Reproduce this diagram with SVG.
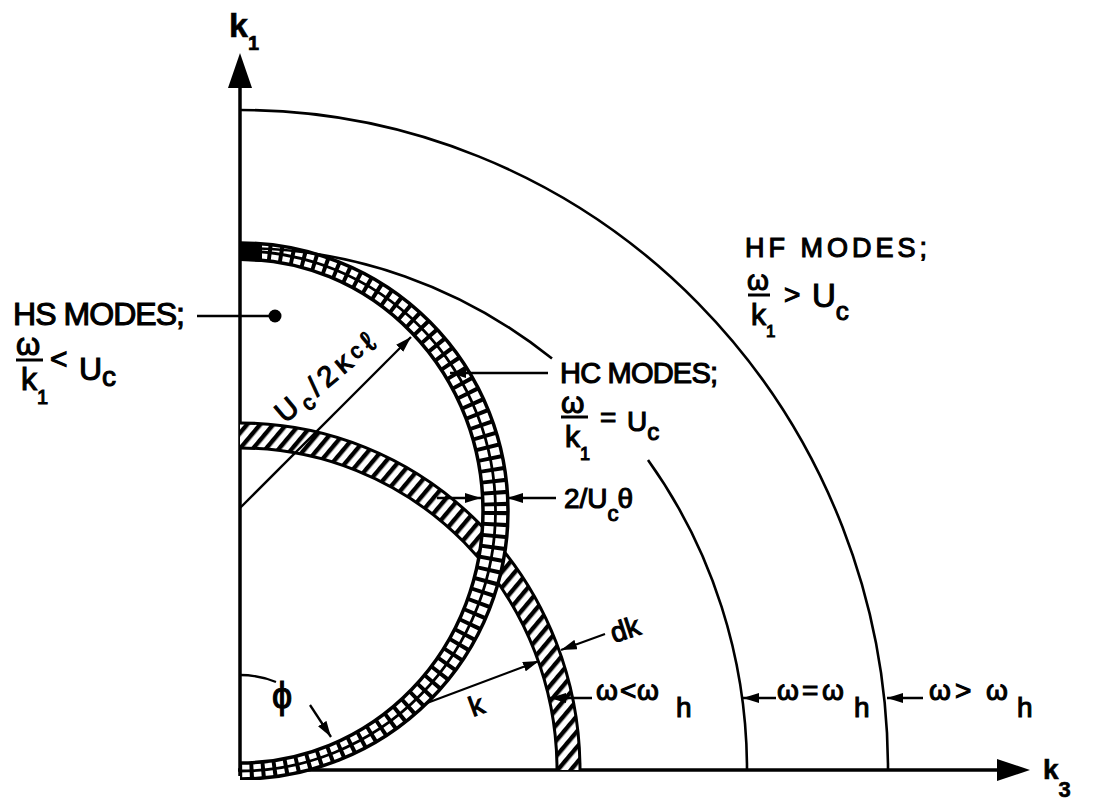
<svg xmlns="http://www.w3.org/2000/svg" width="1093" height="802" viewBox="0 0 1093 802">
<style>
text{font-family:"Liberation Sans",Arial,sans-serif;fill:#000;stroke:#000;stroke-width:1.1}
.b{font-weight:bold;stroke-width:0.6}
.ln{fill:none;stroke:#000;stroke-width:2.6}
.ax{fill:none;stroke:#000;stroke-width:3.5}
.edge{fill:none;stroke:#000;stroke-width:3.5}
.bar{stroke:#000;stroke-width:3}
.dim{fill:none;stroke:#000;stroke-width:2.3}
</style>
<defs>
<marker id="ah" viewBox="0 0 16 10" markerWidth="16" markerHeight="10" refX="16" refY="5" orient="auto" markerUnits="userSpaceOnUse">
<path d="M0,0 L16,5 L0,10 z" fill="#000"/>
</marker>
<pattern id="hatch" patternUnits="userSpaceOnUse" width="10" height="10" patternTransform="rotate(40)">
<rect x="0" y="0" width="4.4" height="10" fill="#000"/>
</pattern>
<clipPath id="quadK"><rect x="240" y="0" width="853" height="770"/></clipPath>
<clipPath id="quadC"><rect x="240" y="0" width="853" height="780"/></clipPath>
<clipPath id="kband">
<path clip-rule="evenodd" d="M-100,770 a340,347 0 1,0 680,0 a340,347 0 1,0 -680,0 Z M-77,770 a317,322 0 1,0 634,0 a317,322 0 1,0 -634,0 Z"/>
</clipPath>
<clipPath id="cband">
<path clip-rule="evenodd" d="M-28,511 a268,268 0 1,0 536,0 a268,268 0 1,0 -536,0 Z M-3,511 a243,252 0 1,0 486,0 a243,252 0 1,0 -486,0 Z"/>
</clipPath>
</defs>
<rect width="1093" height="802" fill="#fff"/>

<g id="axes">
<line class="ax" x1="240" y1="776" x2="240" y2="80"/>
<polygon points="240,53 228,88 252,88" fill="#000"/>
<line class="ax" x1="238" y1="770" x2="1000" y2="770"/>
<polygon points="1030,770 997,759 997,781" fill="#000"/>
<text class="b" x="229" y="37" font-size="34">k<tspan font-size="20" dy="13">1</tspan></text>
<text class="b" x="1043" y="779" font-size="28">k<tspan font-size="22" dy="18">3</tspan></text>
</g>

<g id="k-band" clip-path="url(#quadK)">
<g clip-path="url(#kband)">
<rect x="240" y="400" width="360" height="380" fill="#fff"/>
<rect x="240" y="400" width="360" height="380" fill="url(#hatch)"/>
</g>
<ellipse class="edge" cx="240" cy="770" rx="340" ry="347" style="stroke-width:3"/>
<ellipse class="edge" cx="240" cy="770" rx="317" ry="322" style="stroke-width:3"/>
</g>

<g id="hc-band" clip-path="url(#quadC)">
<g clip-path="url(#cband)">
<rect x="230" y="230" width="300" height="560" fill="#fff"/>
<ellipse cx="240" cy="511" rx="255.5" ry="260" fill="none" stroke="#000" stroke-width="40" stroke-dasharray="4 7.5"/>
<ellipse cx="240" cy="511" rx="255.5" ry="260" fill="none" stroke="#000" stroke-width="2.8"/>
</g>
<ellipse class="edge" cx="240" cy="511" rx="268" ry="268"/>
<ellipse class="edge" cx="240" cy="511" rx="243" ry="252"/>
<path d="M240,243 L262,245 L262,262 L240,261 Z" fill="#000"/>
</g>

<g id="arcs">
<path class="ln" d="M240,248 A507,522 0 0,1 552,358.6"/>
<path class="ln" d="M648,460 A507,522 0 0,1 747,770"/>
<path class="ln" d="M240,110 A648,660 0 0,1 888,770"/>
</g>

<g id="connectors">
<line class="dim" x1="197" y1="316" x2="272" y2="316"/>
<circle cx="275" cy="316" r="6.5" fill="#000"/>
<line class="dim" x1="548" y1="373" x2="450" y2="373" marker-end="url(#ah)"/>
<line class="dim" x1="240" y1="508" x2="411" y2="337" marker-end="url(#ah)"/>
<line class="dim" x1="437" y1="498" x2="481" y2="498" marker-end="url(#ah)"/>
<line class="dim" x1="556" y1="498" x2="507" y2="498" marker-end="url(#ah)"/>
<line class="dim" x1="427" y1="703" x2="539" y2="661" marker-end="url(#ah)"/>
<line class="dim" x1="605" y1="634" x2="561" y2="650" marker-end="url(#ah)"/>
<path class="dim" d="M240,675 A95,95 0 0,1 276,682"/>
<line class="dim" x1="310" y1="705" x2="331" y2="737" marker-end="url(#ah)"/>
<line class="dim" x1="592" y1="698" x2="550" y2="698" marker-end="url(#ah)"/>
<line class="dim" x1="776" y1="698" x2="743" y2="698" marker-end="url(#ah)"/>
<line class="dim" x1="923" y1="698" x2="887" y2="698" marker-end="url(#ah)"/>
</g>

<g id="hs-label">
<text x="13" y="325" font-size="32" textLength="172" lengthAdjust="spacing">HS MODES;</text>
<text x="16" y="355" font-size="31">ω</text>
<line class="bar" x1="16" y1="360" x2="43" y2="360"/>
<text x="21" y="390" font-size="32">k<tspan font-size="20" dy="14">1</tspan></text>
<text x="50" y="369" font-size="30">&lt;</text>
<text x="79" y="380" font-size="32">U<tspan font-size="28" dy="6">c</tspan></text>
</g>

<g id="hc-label">
<text x="560" y="383" font-size="29" textLength="158" lengthAdjust="spacing">HC MODES;</text>
<text x="561" y="413" font-size="30">ω</text>
<line class="bar" x1="561" y1="417" x2="588" y2="417"/>
<text x="565" y="447" font-size="30">k<tspan font-size="18" dy="13">1</tspan></text>
<text x="600" y="427" font-size="28">=</text>
<text x="627" y="431" font-size="28">U<tspan font-size="24" dy="9">c</tspan></text>
</g>

<g id="hf-label">
<text x="745" y="257" font-size="27" textLength="182" lengthAdjust="spacing">HF MODES;</text>
<text x="747" y="290" font-size="28">ω</text>
<line class="bar" x1="748" y1="295" x2="770" y2="295"/>
<text x="751" y="325" font-size="30">k<tspan font-size="17" dy="12">1</tspan></text>
<text x="784" y="304" font-size="28">&gt;</text>
<text x="812" y="307" font-size="33">U<tspan font-size="26" dy="13">c</tspan></text>
</g>

<g id="dim-labels">
<text x="564" y="508" font-size="28">2/U<tspan font-size="22" dy="13">c</tspan><tspan dy="-13" dx="-1">θ</tspan></text>
<text transform="translate(285,424) rotate(-40)" font-size="29" letter-spacing="5">U<tspan font-size="22" dy="6">c</tspan><tspan dy="-6">/2κ</tspan><tspan font-size="22" dy="-3">c</tspan><tspan dy="3">ℓ</tspan></text>
<text transform="translate(614,643) rotate(-18)" font-size="28">dk</text>
<text transform="translate(473,717) rotate(-20)" font-size="28">k</text>
<text x="272" y="708" font-size="36">ϕ</text>
<text x="597" y="700" font-size="28"><tspan x="596">ω</tspan><tspan x="620">&lt;</tspan><tspan x="637">ω</tspan><tspan x="676" y="717" font-size="28">h</tspan></text>
<text x="778" y="700" font-size="28"><tspan x="777">ω</tspan><tspan x="802">=</tspan><tspan x="822">ω</tspan><tspan x="854" y="717" font-size="28">h</tspan></text>
<text x="930" y="700" font-size="28"><tspan x="929">ω</tspan><tspan x="955">&gt;</tspan><tspan x="986">ω</tspan><tspan x="1017" y="717" font-size="28">h</tspan></text>
</g>
</svg>
